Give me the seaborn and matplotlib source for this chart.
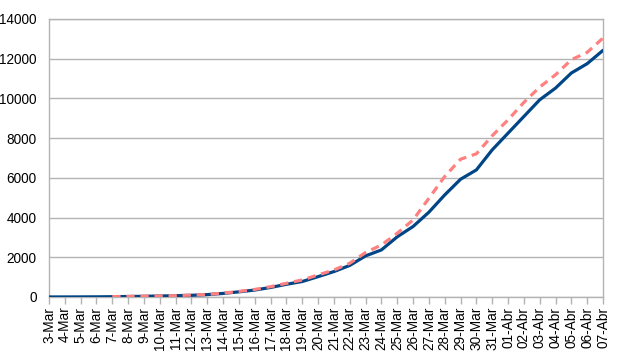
import numpy as np
import pandas as pd
import matplotlib
matplotlib.use("Agg")
import matplotlib.pyplot as plt
import seaborn as sns

dates = ([f"{d}-Mar" for d in range(3, 32)] +
         [f"0{d}-Abr" for d in range(1, 8)])

series_a = [2, 3, 5, 8, 15, 25, 35, 50, 65, 85, 120, 180, 260, 350, 480, 640,
            780, 1025, 1280, 1590, 2070, 2370, 3030, 3550, 4270, 5140, 5930,
            6400, 7410, 8250, 9090, 9930, 10520, 11280, 11750, 12420]

series_b = [None, None, None, None,
            20, 30, 40, 55, 70, 95, 130, 195, 280, 380, 520, 690, 860,
            1110, 1360, 1700, 2240, 2620, 3210, 3880, 4970, 6070, 6940,
            7210, 8120, 8920, 9800, 10570, 11190, 11950, 12320, 13040]

yticks = [0, 2000, 4000, 6000, 8000, 10000, 12000, 14000]

sns.set_style("white")
plt.rcParams['font.family'] = ['Liberation Sans', 'DejaVu Sans']

df = pd.DataFrame({"idx": np.arange(len(dates)), "date": dates,
                   "a": series_a, "b": pd.array(series_b, dtype="Float64")})
df["b"] = df["b"].astype(float)

fig = plt.figure(figsize=(6.21, 3.53), dpi=100)
ax = fig.add_axes([49 / 621, 56 / 353, (603 - 49) / 621, (297 - 19) / 353])

grid_c = "#b3b3b3"
for y in yticks:
    ax.axhline(y, color=grid_c, lw=1.0, zorder=0)

sns.lineplot(data=df, x="idx", y="a", ax=ax, color="#004586", lw=2.3,
             zorder=3, legend=False)
sns.lineplot(data=df.dropna(subset=["b"]), x="idx", y="b", ax=ax,
             color="#ff8080", lw=2.3, zorder=4, legend=False)
ax.lines[-1].set_dashes([2.6, 1.8])

ax.set_xlim(0, len(dates) - 1)
ax.set_ylim(0, 14000)
ax.set_yticks(yticks)
ax.set_yticklabels([str(v) for v in yticks], fontsize=9.8, color="#000000")
ax.set_xticks(np.arange(len(dates)))
ax.set_xticklabels(dates, rotation=90, fontsize=9.8, color="#000000")
ax.set_xlabel("")
ax.set_ylabel("")

for s in ax.spines.values():
    s.set_visible(True)
    s.set_color(grid_c)
    s.set_linewidth(1.0)

ax.tick_params(axis="x", length=5, width=1, color=grid_c, pad=2, bottom=True)
ax.tick_params(axis="y", length=0, pad=9, left=True)

fig.savefig("out.png", dpi=100)
